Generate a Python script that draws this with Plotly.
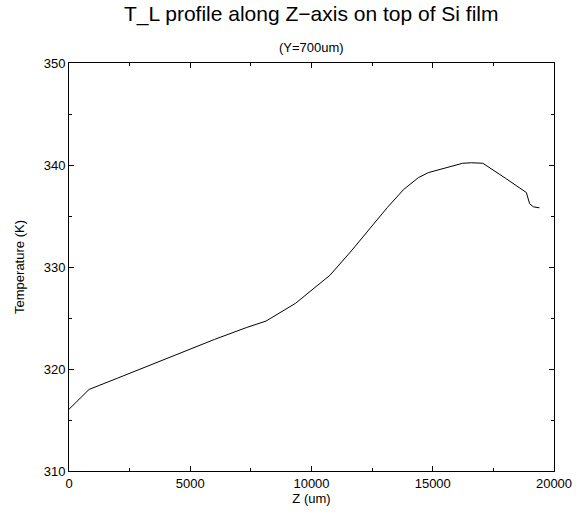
import plotly.graph_objects as go

z_um = [0, 830, 2000, 4000, 6000, 7315, 8126, 9341, 10760, 11640, 12381, 13123, 13800,
        14408, 14813, 15500, 16231, 16600, 17066, 18000, 18860, 18995, 19150, 19400]
temp_k = [316.05, 318.0, 319.1, 321.0, 322.9, 324.06, 324.7, 326.44, 329.19, 331.57, 333.7, 335.82, 337.6,
          338.76, 339.25, 339.7, 340.17, 340.22, 340.17, 338.7, 337.3, 336.2, 335.9, 335.8]

title = "T_L profile along Z\u2212axis on top of Si film"
subtitle = "(Y=700um)"

fig = go.Figure(go.Scatter(x=z_um, y=temp_k, mode="lines",
                           line=dict(color="black", width=1)))

font = "Liberation Sans, Arial, Helvetica, sans-serif"
axis_common = dict(showgrid=False, zeroline=False, showline=True, linecolor="black",
                   linewidth=1, mirror="ticks", ticks="inside", ticklen=5,
                   tickcolor="black", tickfont=dict(size=13, color="black", family=font))

fig.update_xaxes(range=[0, 20000], dtick=5000, tick0=0, tickformat="d",
                 minor=dict(dtick=2500, ticks="inside", ticklen=3, tickcolor="black"),
                 title=dict(text="Z (um)", font=dict(size=13, color="black", family=font), standoff=2),
                 **axis_common)
fig.update_yaxes(range=[310, 350], dtick=10, tick0=310, tickformat="d",
                 minor=dict(dtick=5, ticks="inside", ticklen=3, tickcolor="black"),
                 title=dict(text="Temperature (K)", font=dict(size=13, color="black", family=font), standoff=16),
                 **axis_common)

fig.update_layout(
    width=584, height=514,
    margin=dict(l=69, r=21, t=63, b=42),
    plot_bgcolor="white", paper_bgcolor="white",
    showlegend=False,
    annotations=[
        dict(text=title, xref="paper", yref="paper", x=0.5, y=1.0, yanchor="middle",
             yshift=49, showarrow=False,
             font=dict(size=21, color="black", family=font)),
        dict(text=subtitle, xref="paper", yref="paper", x=0.5, y=1.0, yanchor="middle",
             yshift=16, showarrow=False,
             font=dict(size=13, color="black", family=font)),
    ],
)

fig.write_html("out.html")
